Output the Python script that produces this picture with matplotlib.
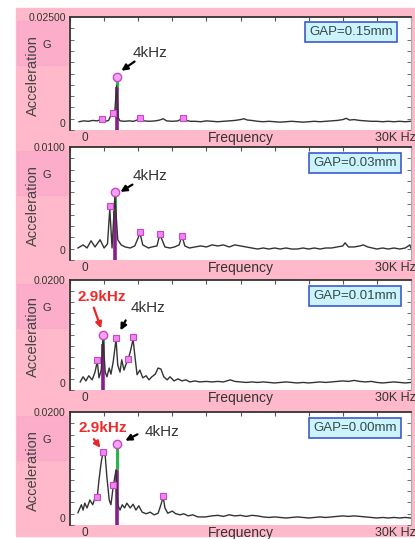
import numpy as np
import matplotlib.pyplot as plt
from matplotlib.patches import Rectangle

plt.rcParams['font.family'] = ['Liberation Sans', 'DejaVu Sans']

# panel labels
gaps = ['GAP=0.15mm', 'GAP=0.03mm', 'GAP=0.01mm', 'GAP=0.00mm']
ymax_vals = [0.025, 0.01, 0.02, 0.02]
ymax_labels = ['0.02500', '0.0100', '0.0200', '0.0200']

# spectrum traces: frequency (kHz) and acceleration (G)
f1 = [0.8, 1.2, 1.6, 2.0, 2.4, 2.8, 3.1, 3.4, 3.65, 3.8, 3.95, 4.1, 4.25, 4.4, 4.8,
      5.2, 5.6, 6.0, 6.2, 6.5, 7.0, 7.5, 7.9, 8.2, 8.5, 9.0, 9.5, 9.9, 10.2, 10.6,
      11.0, 11.5, 12.0, 12.5, 13.0, 13.5, 14.0, 14.5, 15.0, 15.3, 15.6, 16.0, 16.5, 17.0, 17.5,
      18.0, 18.5, 19.0, 19.5, 20.0, 20.5, 21.0, 21.5, 22.0, 22.5, 23.0, 23.5, 24.0, 24.3, 24.6,
      25.0, 25.5, 26.0, 26.5, 27.0, 27.5, 28.0, 28.5, 29.0, 29.5, 30.0]
a1 = [0.0003, 0.0005, 0.0004, 0.0006, 0.0005, 0.0009, 0.0004, 0.0006, 0.0022, 0.0016,
      0.0030, 0.0088, 0.0012, 0.0005, 0.0004, 0.0005, 0.0004, 0.0008, 0.0012, 0.0005,
      0.0004, 0.0005, 0.0007, 0.0010, 0.0005, 0.0004, 0.0005, 0.0011, 0.0006, 0.0004,
      0.0004, 0.0003, 0.0005, 0.0004, 0.0003, 0.0004, 0.0005, 0.0006, 0.0008, 0.0010,
      0.0007, 0.0006, 0.0004, 0.0003, 0.0004, 0.0003, 0.0002, 0.0003, 0.0004, 0.0003,
      0.0002, 0.0003, 0.0004, 0.0003, 0.0004, 0.0005, 0.0006, 0.0008, 0.0011, 0.0007,
      0.0008, 0.0006, 0.0005, 0.0004, 0.0004, 0.0003, 0.0004, 0.0003, 0.0004, 0.0003, 0.0004]

f2 = [0.7, 1.15, 1.5, 1.85, 2.2, 2.65, 3.0, 3.3, 3.5, 3.7, 3.95, 4.2, 4.5, 4.85, 5.3,
      5.7, 6.0, 6.15, 6.4, 6.9, 7.2, 7.65, 7.9, 8.1, 8.35, 8.8, 9.2, 9.6, 9.85, 10.1,
      10.5, 11.0, 11.5, 12.0, 12.5, 13.0, 13.5, 14.0, 14.5, 15.0, 15.5, 16.0, 16.5, 17.0, 17.5,
      18.0, 18.5, 19.0, 19.5, 20.0, 20.5, 21.0, 21.5, 22.0, 22.5, 23.0, 23.5, 24.0, 24.2, 24.5,
      25.0, 25.5, 25.8, 26.2, 26.6, 27.0, 27.5, 28.0, 28.5, 29.0, 29.5, 29.9, 30.0]
a2 = [0.0002, 0.0005, 0.0002, 0.0009, 0.0003, 0.0010, 0.0002, 0.0006, 0.0040, 0.0002,
      0.0053, 0.0010, 0.0005, 0.0003, 0.0002, 0.0004, 0.0012, 0.0017, 0.0005, 0.0002,
      0.0003, 0.0004, 0.0015, 0.0010, 0.0003, 0.0002, 0.0003, 0.0005, 0.0014, 0.0004,
      0.0002, 0.0003, 0.0004, 0.0003, 0.0005, 0.0004, 0.0005, 0.0003, 0.0005, 0.0004,
      0.0003, 0.0002, 0.0001, 0.0002, 0.0001, 0.0002, 0.0001, 0.0002, 0.0001, 0.0001,
      0.0002, 0.0001, 0.0002, 0.0001, 0.0002, 0.0002, 0.0003, 0.0004, 0.0007, 0.0003,
      0.0003, 0.0004, 0.0005, 0.0003, 0.0002, 0.0001, 0.0002, 0.0001, 0.0002, 0.0001,
      0.0002, 0.0005, 0.0002]

f3 = [0.9, 1.15, 1.4, 1.65, 1.95, 2.2, 2.4, 2.55, 2.75, 2.9, 3.1, 3.25, 3.45, 3.6, 3.8,
      4.05, 4.2, 4.4, 4.55, 4.75, 4.9, 5.1, 5.3, 5.55, 5.7, 5.9, 6.15, 6.4, 6.7, 6.95,
      7.2, 7.5, 7.75, 8.0, 8.25, 8.55, 8.8, 9.15, 9.5, 9.85, 10.2, 10.55, 11.0, 11.4, 12.0,
      12.5, 13.0, 13.5, 14.1, 14.5, 15.0, 15.5, 16.0, 16.5, 17.0, 17.5, 18.0, 18.5, 19.0, 19.5,
      20.0, 20.5, 21.0, 21.5, 22.0, 22.5, 23.0, 23.5, 24.0, 24.5, 25.0, 25.5, 26.0, 26.5, 27.0,
      27.5, 28.0, 28.5, 29.0, 29.5, 30.0]
a3 = [0.0002, 0.0012, 0.0004, 0.0014, 0.0006, 0.0021, 0.0042, 0.0010, 0.0025, 0.0088,
      0.0021, 0.0012, 0.0029, 0.0017, 0.0041, 0.0085, 0.0035, 0.0021, 0.0045, 0.0025,
      0.0035, 0.0045, 0.0060, 0.0085, 0.0054, 0.0016, 0.0025, 0.0010, 0.0014, 0.0006,
      0.0012, 0.0017, 0.0029, 0.0027, 0.0012, 0.0006, 0.0012, 0.0004, 0.0008, 0.0004,
      0.0006, 0.0002, 0.0004, 0.0002, 0.0003, 0.0002, 0.0003, 0.0002, 0.0006, 0.0003,
      0.0002, 0.0001, 0.0002, 0.0001, 0.0002, 0.0001, 0.0000, 0.0001, 0.0002, 0.0001,
      0.0000, 0.0001, 0.0000, 0.0001, 0.0002, 0.0001, 0.0002, 0.0003, 0.0004, 0.0003,
      0.0005, 0.0003, 0.0002, 0.0003, 0.0001, 0.0000, 0.0001, 0.0002, 0.0001, 0.0000, 0.0001]

f4 = [0.7, 1.0, 1.15, 1.3, 1.5, 1.75, 2.0, 2.2, 2.4, 2.55, 2.75, 2.9, 3.1, 3.25, 3.45,
      3.6, 3.8, 4.05, 4.2, 4.4, 4.6, 4.8, 5.0, 5.3, 5.55, 5.8, 6.05, 6.35, 6.7, 7.05,
      7.4, 7.75, 8.0, 8.2, 8.35, 8.6, 9.0, 9.3, 9.7, 10.0, 10.4, 10.8, 11.25, 11.9, 12.5,
      13.0, 13.5, 14.0, 14.5, 15.0, 15.5, 16.0, 16.5, 17.0, 17.5, 18.0, 18.5, 19.0, 19.5, 20.0,
      20.5, 21.0, 21.5, 22.0, 22.5, 23.0, 23.5, 24.0, 24.5, 25.0, 25.5, 26.0, 26.5, 27.0, 27.5,
      28.0, 28.5, 29.0, 29.5, 30.0]
a4 = [0.0010, 0.0025, 0.0015, 0.0028, 0.0019, 0.0034, 0.0025, 0.0038, 0.0040, 0.0072,
      0.0106, 0.0123, 0.0117, 0.0076, 0.0034, 0.0025, 0.0059, 0.0091, 0.0025, 0.0015,
      0.0025, 0.0019, 0.0028, 0.0019, 0.0026, 0.0015, 0.0023, 0.0011, 0.0008, 0.0011,
      0.0006, 0.0009, 0.0025, 0.0040, 0.0019, 0.0009, 0.0013, 0.0008, 0.0006, 0.0008,
      0.0004, 0.0006, 0.0002, 0.0002, 0.0004, 0.0005, 0.0003, 0.0006, 0.0004, 0.0005,
      0.0003, 0.0005, 0.0004, 0.0002, 0.0001, 0.0002, 0.0001, 0.0000, 0.0001, 0.0002,
      0.0001, 0.0000, 0.0001, 0.0002, 0.0001, 0.0002, 0.0003, 0.0004, 0.0003, 0.0004,
      0.0003, 0.0002, 0.0001, 0.0000, 0.0001, 0.0000, 0.0001, 0.0000, 0.0001, 0.0000]

# picked peaks (small markers)
pk1_f = [2.8, 3.8, 6.2, 9.95]
pk1_a = [0.0009, 0.0024, 0.0012, 0.0011]
pk2_f = [3.5, 6.15, 7.9, 9.85]
pk2_a = [0.0043, 0.0018, 0.0016, 0.0014]
pk3_f = [2.4, 4.05, 5.1, 5.55]
pk3_a = [0.0045, 0.0088, 0.0047, 0.0089]
pk4_f = [2.4, 2.9, 3.8, 8.2]
pk4_a = [0.0040, 0.0125, 0.0062, 0.0042]

# main peak cursor: frequency, top, green/purple split
main_f = [4.1, 4.0, 2.9, 4.1]
main_a = [0.0109, 0.0056, 0.0093, 0.0140]
main_split = [0.0086, 0.0038, 0.0075, 0.0091]

traces = [(f1, a1), (f2, a2), (f3, a3), (f4, a4)]
peaks = [(pk1_f, pk1_a), (pk2_f, pk2_a), (pk3_f, pk3_a), (pk4_f, pk4_a)]

W, H = 415, 539
fig = plt.figure(figsize=(W / 100, H / 100), dpi=100)
fig.patch.set_facecolor('white')
pink = '#FFB9CA'
fig.patches.append(Rectangle((16 / W, 1 - 536 / H), 1, (536 - 8) / H,
                             transform=fig.transFigure, color=pink, zorder=-2))

tops = [17, 147, 280, 412]
bots = [130, 260, 390, 525]
zero_frac = [0.062, 0.088, 0.064, 0.062]
left, right = 70, 411

# annotation spots (axes fraction)
ann_4k = [((0.235, 0.68), (0.196, 0.62), (0.144, 0.51)),
          ((0.235, 0.74), (0.19, 0.68), (0.141, 0.59)),
          ((0.229, 0.745), (0.167, 0.655), (0.144, 0.52)),
          ((0.27, 0.823), (0.205, 0.814), (0.155, 0.735))]
ann_29 = [None, None,
          ((0.094, 0.845), (0.067, 0.773), (0.094, 0.536)),
          ((0.097, 0.858), (0.065, 0.779), (0.094, 0.664))]

for i in range(4):
    t, b = tops[i], bots[i]
    ax = fig.add_axes([left / W, 1 - b / H, (right - left) / W, (b - t) / H])
    ax.set_zorder(1)
    ymax = ymax_vals[i]
    y0 = -zero_frac[i] / (1 - zero_frac[i]) * ymax
    ax.set_xlim(0, 30)
    ax.set_ylim(y0, ymax)

    # a slightly deeper pink patch behind the unit
    fig.patches.append(Rectangle((17 / W, 1 - (t + 48) / H), 50 / W, 44 / H,
                                 transform=fig.transFigure, color='#F9A6CB',
                                 alpha=0.6, zorder=-1))

    f, a = traces[i]
    ax.plot(f, a, color='#333333', lw=1.0, zorder=3)
    ax.vlines(main_f[i], y0, main_split[i], color='#8A1E8C', lw=2.6, zorder=2)
    ax.vlines(main_f[i], main_split[i], main_a[i], color='#2DB34A', lw=2.2, zorder=2)
    pf, pa = peaks[i]
    ax.plot(pf, pa, 's', ms=4, mfc='#EE88EE', mec='#CC44CC', mew=0.8, zorder=4)
    ax.plot(main_f[i], main_a[i], 'o', ms=6, mfc='#F2A6F2', mec='#CC44CC', mew=1.0, zorder=5)

    for s in ['top', 'left']:
        ax.spines[s].set_color('#333333')
        ax.spines[s].set_linewidth(1.3)
    ax.spines['right'].set_color('#aaaaaa')
    ax.spines['bottom'].set_visible(False)

    ax.set_xticks(np.arange(0, 31, 3))
    ax.tick_params(axis='x', bottom=False, top=True, labelbottom=False,
                   direction='in', length=3, color='#555555')
    ax.set_yticks([0, ymax], labels=['0', ymax_labels[i]])
    ax.set_yticks(np.linspace(y0, ymax, 11), minor=True)
    ax.tick_params(axis='y', which='both', direction='in', length=3, right=True,
                   color='#555555', labelsize=7.5, labelcolor='#333333', pad=3)
    ax.tick_params(axis='y', which='major', length=0)

    # bottom strip labels
    ax.text(0.044, -0.075, '0', transform=ax.transAxes, ha='center', va='center',
            fontsize=8.5, color='#333333')
    ax.text(0.5, -0.075, 'Frequency', transform=ax.transAxes, ha='center', va='center',
            fontsize=10, color='#333333')
    ax.text(0.894, -0.075, '30K Hz', transform=ax.transAxes, ha='left', va='center',
            fontsize=9, color='#333333', clip_on=False)

    fig.text(47 / W, 1 - (t + 28) / H, 'G', fontsize=8, color='#333333',
             ha='center', va='center')
    fig.text(33 / W, 1 - ((t + b) / 2 + 2) / H, 'Acceleration', rotation=90,
             fontsize=10.5, color='#444444', ha='center', va='center')

    ax.text(*([0.836, 0.855] if i else [0.824, 0.867]), gaps[i], transform=ax.transAxes,
            ha='center', va='center', fontsize=9.5, color='#2F4A48',
            bbox=dict(boxstyle='square,pad=0.3', fc='#CDF3FF', ec='#3B5BD0', lw=1.2))

    txt, tail, head = ann_4k[i]
    ax.text(*txt, '4kHz', transform=ax.transAxes, ha='center', va='center',
            fontsize=11, color='#333333')
    ax.annotate('', xy=head, xytext=tail, xycoords='axes fraction',
                arrowprops=dict(arrowstyle='-|>', color='black', lw=1.6, mutation_scale=9))
    if ann_29[i] is not None:
        txt, tail, head = ann_29[i]
        ax.text(*txt, '2.9kHz', transform=ax.transAxes, ha='center', va='center',
                fontsize=11, color='#F02A2A', fontweight='bold')
        ax.annotate('', xy=head, xytext=tail, xycoords='axes fraction',
                    arrowprops=dict(arrowstyle='-|>', color='#E82828', lw=1.6,
                                    mutation_scale=9))

plt.savefig('out.png', dpi=100)
